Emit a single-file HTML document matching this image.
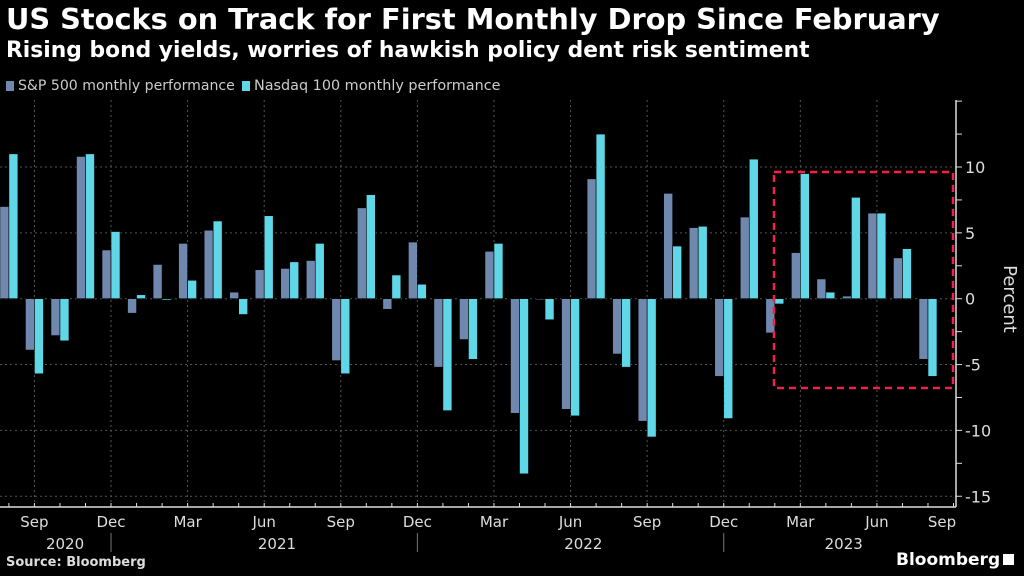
<!DOCTYPE html>
<html><head><meta charset="utf-8"><style>
body{margin:0;background:#000;width:1024px;height:576px;overflow:hidden;font-family:"DejaVu Sans","Liberation Sans",sans-serif;color:#fff}
.t{position:absolute;left:6px;top:2px;font-size:28px;font-weight:bold;white-space:nowrap}
.s{position:absolute;left:6px;top:38px;font-size:18px;font-weight:bold;white-space:nowrap}
.lg{position:absolute;top:78px;font-size:14px;color:#ccc;white-space:nowrap}
.sw{display:inline-block;width:8px;height:10px;margin-right:4px;vertical-align:-1px}
</style></head><body>
<div class="t" id="tt">US Stocks on Track for First Monthly Drop Since February</div>
<div class="s" id="st">Rising bond yields, worries of hawkish policy dent risk sentiment</div>
<div class="lg" id="l1" style="left:6px"><span class="sw" style="background:#7088ad"></span>S&amp;P 500 monthly performance</div>
<div class="lg" id="l2" style="left:242px"><span class="sw" style="background:#5fd7e6"></span>Nasdaq 100 monthly performance</div>
<svg id="c" width="1024" height="576" style="position:absolute;left:0;top:0"></svg>
<script>
const months=["Aug20","Sep20","Oct20","Nov20","Dec20","Jan21","Feb21","Mar21","Apr21","May21","Jun21","Jul21","Aug21","Sep21","Oct21","Nov21","Dec21","Jan22","Feb22","Mar22","Apr22","May22","Jun22","Jul22","Aug22","Sep22","Oct22","Nov22","Dec22","Jan23","Feb23","Mar23","Apr23","May23","Jun23","Jul23","Aug23"];
const sp500=[7.0,-3.9,-2.8,10.8,3.7,-1.1,2.6,4.2,5.2,0.5,2.2,2.3,2.9,-4.7,6.9,-0.8,4.3,-5.2,-3.1,3.6,-8.7,0.0,-8.4,9.1,-4.2,-9.3,8.0,5.4,-5.9,6.2,-2.6,3.5,1.5,0.2,6.5,3.1,-4.6];
const nasdaq=[11.0,-5.7,-3.2,11.0,5.1,0.3,-0.1,1.4,5.9,-1.2,6.3,2.8,4.2,-5.7,7.9,1.8,1.1,-8.5,-4.6,4.2,-13.3,-1.6,-8.9,12.5,-5.2,-10.5,4.0,5.5,-9.1,10.6,-0.4,9.5,0.5,7.7,6.5,3.8,-5.9];
const yTicks=[-15,-10,-5,0,5,10];
const xLabels=[["Sep",1],["Dec",4],["Mar",7],["Jun",10],["Sep",13],["Dec",16],["Mar",19],["Jun",22],["Sep",25],["Dec",28],["Mar",31],["Jun",34],["Sep",37]];
const years=[["2020",2.2],["2021",10.5],["2022",22.5],["2023",32.7]];
function fit(id,w){const e=document.getElementById(id);const fs=parseFloat(getComputedStyle(e).fontSize);e.style.fontSize=(fs*w/e.getBoundingClientRect().width)+'px';}
fit('tt',934);fit('st',804);fit('l1',229);fit('l2',259);
const svg=document.getElementById('c');const NS="http://www.w3.org/2000/svg";
function el(t,a){const e=document.createElementNS(NS,t);for(const k in a)e.setAttribute(k,a[k]);svg.appendChild(e);return e;}
const X=i=>8.9+i*25.53, Y=v=>298.7-v*13.17;
const AX=956, BOT=507;
const F='DejaVu Sans, Liberation Sans, sans-serif';
yTicks.forEach(v=>{const g=el('line',{x1:0,x2:AX,y1:Y(v),y2:Y(v),stroke:'#555','stroke-dasharray':'2,3'});
});
xLabels.forEach(([l,i])=>{if(i<37){const g=el('line',{x1:X(i),x2:X(i),y1:100,y2:BOT,stroke:'#555','stroke-dasharray':'2,3'});
}});
months.forEach((m,i)=>{
 [[sp500[i],-9,'#7088ad','bar-sp500-'],[nasdaq[i],0,'#5fd7e6','bar-nasdaq-']].forEach(([v,o,c,n])=>{
  const y0=Y(0),y1=Y(v);const r=el('rect',{x:X(i)+o,y:Math.min(y0,y1),width:9,height:Math.max(Math.abs(y1-y0),1),fill:c,stroke:'#000','stroke-width':0.6});
  });
});
let a=el('line',{x1:AX,x2:AX,y1:100,y2:BOT,stroke:'#ddd','stroke-width':1.5});
a=el('line',{x1:0,x2:AX,y1:BOT,y2:BOT,stroke:'#ddd','stroke-width':1.5});
for(let v=-15;v<=15;v+=2.5){el('line',{x1:AX,x2:AX+6,y1:Y(v),y2:Y(v),stroke:'#ddd'});}
yTicks.forEach(v=>{const t=el('text',{x:AX+9,y:Y(v)+6,fill:'#ddd','font-size':16,'font-family':F});t.textContent=v<0?'-'+Math.abs(v):v;
});
const yt=el('text',{transform:'translate(1004,299) rotate(90)','text-anchor':'middle',fill:'#ddd','font-size':18,'font-family':F});yt.textContent='Percent';

for(let i=0;i<38;i++){el('line',{x1:X(i),x2:X(i),y1:BOT,y2:BOT-4,stroke:'#ddd'});}
xLabels.forEach(([l,i])=>{const x=i<37?X(i):942;const t=el('text',{x:x,y:527,'text-anchor':'middle',fill:'#ddd','font-size':15,'font-family':F});t.textContent=l;
});
years.forEach(([l,i])=>{const t=el('text',{x:X(i),y:549,'text-anchor':'middle',fill:'#ddd','font-size':15,'font-family':F});t.textContent=l;
});
[4,16,28].forEach(i=>el('line',{x1:X(i),x2:X(i),y1:533,y2:552,stroke:'#777'}));
const box=el('rect',{x:774,y:172,width:179,height:216,fill:'none',stroke:'#f0204a','stroke-width':2.5,'stroke-dasharray':'7,5'});

</script>
<div style="position:absolute;left:6px;top:555px;font-size:13px;font-weight:bold;color:#ddd">Source: Bloomberg</div>
<div style="position:absolute;left:896px;top:550px;font-size:17px;font-weight:bold;color:#fff">Bloomberg<span style="display:inline-block;width:11px;height:11px;background:#fff;margin-left:3px"></span></div>
</body></html>
